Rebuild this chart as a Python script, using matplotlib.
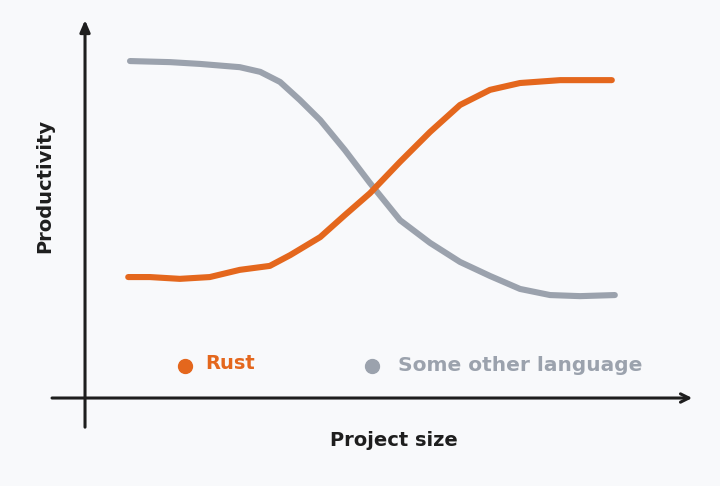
import matplotlib
matplotlib.use("Agg")
import matplotlib.pyplot as plt

# Data (arbitrary units)
rust_size = [0.72, 1.08, 1.58, 2.08, 2.58, 3.08, 3.42, 3.92, 4.33, 4.75, 5.25, 5.75, 6.25, 6.75, 7.25, 7.92, 8.78]
rust_prod = [3.36, 3.36, 3.31, 3.36, 3.56, 3.67, 3.97, 4.47, 5.08, 5.69, 6.56, 7.39, 8.14, 8.56, 8.75, 8.83, 8.83]

other_size = [0.75, 1.42, 1.92, 2.58, 2.92, 3.25, 3.58, 3.92, 4.33, 4.75, 5.25, 5.75, 6.25, 6.75, 7.25, 7.75, 8.25, 8.83]
other_prod = [9.36, 9.33, 9.28, 9.19, 9.06, 8.78, 8.28, 7.72, 6.89, 5.97, 4.94, 4.31, 3.78, 3.39, 3.03, 2.86, 2.83, 2.86]

series_labels = ["Rust", "Some other language"]
x_label = "Project size"
y_label = "Productivity"

ORANGE = "#e4671d"
GRAY = "#9ba2ad"
BG = "#f8f9fb"
INK = "#1e1e1e"

fig = plt.figure(figsize=(7.2, 4.86), dpi=100, facecolor=BG)
ax = fig.add_axes([0, 0, 1, 1])
ax.set_facecolor(BG)
ax.set_xlim(-1.417, 10.583)
ax.set_ylim(-2.444, 11.056)
ax.axis("off")

font = "DejaVu Sans"

# axes arrows
ax.annotate("", xy=(0, 10.5), xytext=(0, -0.81),
            arrowprops=dict(arrowstyle="-|>,head_length=0.7,head_width=0.3", lw=2.2, color=INK,
                            shrinkA=0, shrinkB=0))
ax.annotate("", xy=(10.12, 0), xytext=(-0.55, 0),
            arrowprops=dict(arrowstyle="->,head_length=0.6,head_width=0.3", lw=2.2, color=INK,
                            shrinkA=0, shrinkB=0))

ax.plot(other_size, other_prod, color=GRAY, lw=4.4, solid_capstyle="round", solid_joinstyle="round")
ax.plot(rust_size, rust_prod, color=ORANGE, lw=4.4, solid_capstyle="round", solid_joinstyle="round")

# legend
ax.plot([1.667], [0.89], "o", color=ORANGE, ms=10)
ax.text(2.0, 0.95, series_labels[0], color=ORANGE, fontsize=14, fontweight="bold",
        family=font, va="center", ha="left")
ax.plot([4.783], [0.89], "o", color=GRAY, ms=10)
ax.text(5.22, 0.89, series_labels[1], color=GRAY, fontsize=14.5, fontweight="bold",
        family=font, va="center", ha="left")

ax.text(5.15, -1.17, x_label, color=INK, fontsize=14, fontweight="bold",
        family=font, ha="center", va="center")
ax.text(-0.67, 5.9, y_label, color=INK, fontsize=14, fontweight="bold",
        family=font, ha="center", va="center", rotation=90)

fig.savefig("out.png", dpi=100, facecolor=BG)
